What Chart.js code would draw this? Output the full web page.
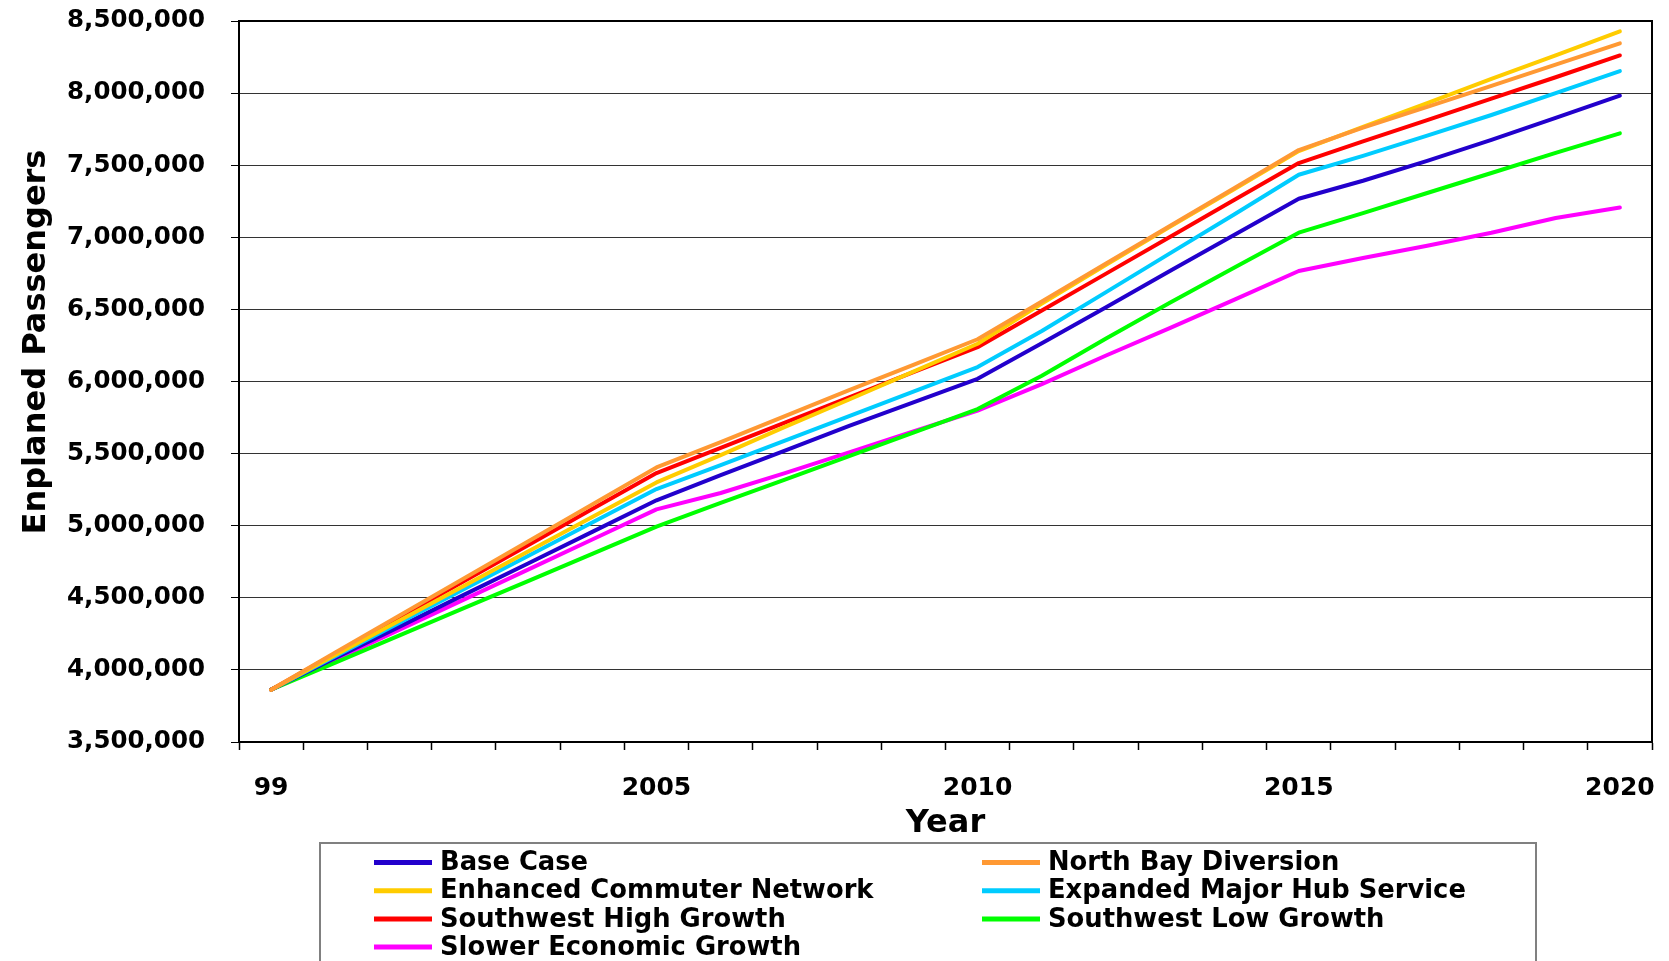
<!DOCTYPE html>
<html>
<head>
<meta charset="utf-8">
<title>Enplaned Passengers Forecast</title>
<script src="https://cdn.jsdelivr.net/npm/chart.js@4.4.1/dist/chart.umd.min.js"></script>
<style>
  html, body { margin: 0; padding: 0; background: #ffffff; }
  #wrap { width: 1669px; height: 961px; position: relative; overflow: hidden; }
  canvas { display: block; }
</style>
</head>
<body>
<div id="wrap"><canvas id="chart" width="1669" height="961"></canvas></div>
<script>
// Forecast years
const years = [1999, 2000, 2001, 2002, 2003, 2004, 2005, 2006, 2007, 2008, 2009,
               2010, 2011, 2012, 2013, 2014, 2015, 2016, 2017, 2018, 2019, 2020];

// Labels shown under the x axis (one per year, blank where no label is printed)
const yearTickLabels = ['99', '', '', '', '', '', '2005', '', '', '', '',
                        '2010', '', '', '', '', '2015', '', '', '', '', '2020'];

// Y axis range and step (enplaned passengers)
const yTickMin = 3500000;
const yTickMax = 8500000;
const yTickStep = 500000;

// Scenario names, in legend order
const scenarioNames = [
  'Base Case',
  'North Bay Diversion',
  'Enhanced Commuter Network',
  'Expanded Major Hub Service',
  'Southwest High Growth',
  'Southwest Low Growth',
  'Slower Economic Growth'
];

// Enplaned passengers per scenario, 1999-2020
const baseCase = [3863000, 4082000, 4300000, 4520000, 4738000, 4957000, 5176000,
  5350000, 5520000, 5692000, 5855000, 6019000, 6265000, 6515000, 6768000, 7018000,
  7267000, 7392000, 7530000, 7675000, 7828000, 7982000];

const northBayDiversion = [3863000, 4120000, 4377000, 4634000, 4890000, 5147000, 5404000,
  5580000, 5760000, 5940000, 6115000, 6293000, 6555000, 6818000, 7080000, 7342000,
  7605000, 7760000, 7905000, 8050000, 8198000, 8345000];

const enhancedCommuterNetwork = [3863000, 4103000, 4342000, 4582000, 4821000, 5061000, 5300000,
  5490000, 5685000, 5875000, 6068000, 6262000, 6540000, 6810000, 7075000, 7335000,
  7598000, 7765000, 7930000, 8098000, 8262000, 8428000];

const expandedMajorHubService = [3863000, 4095000, 4327000, 4559000, 4790000, 5022000, 5254000,
  5420000, 5590000, 5760000, 5930000, 6100000, 6350000, 6620000, 6890000, 7160000,
  7434000, 7565000, 7705000, 7848000, 8000000, 8153000];

const southwestHighGrowth = [3863000, 4113000, 4364000, 4614000, 4864000, 5115000, 5365000,
  5540000, 5715000, 5890000, 6065000, 6238000, 6492000, 6748000, 7004000, 7260000,
  7515000, 7665000, 7813000, 7962000, 8110000, 8261000];

const southwestLowGrowth = [3863000, 4051000, 4240000, 4428000, 4616000, 4805000, 4993000,
  5158000, 5320000, 5482000, 5645000, 5809000, 6040000, 6298000, 6548000, 6790000,
  7032000, 7168000, 7307000, 7446000, 7585000, 7721000];

const slowerEconomicGrowth = [3863000, 4071000, 4279000, 4487000, 4695000, 4904000, 5113000,
  5227000, 5365000, 5508000, 5654000, 5798000, 5982000, 6180000, 6372000, 6568000,
  6766000, 6856000, 6942000, 7032000, 7134000, 7207000];

const scenarioValues = [baseCase, northBayDiversion, enhancedCommuterNetwork,
  expandedMajorHubService, southwestHighGrowth, southwestLowGrowth, slowerEconomicGrowth];

// Line colours and stacking (lower order is painted on top)
const scenarioColors = ['#2200cc', '#ff9933', '#ffcc00', '#00ccff', '#ff0000', '#00ff00', '#ff00ff'];
const scenarioOrder = [4, 0, 1, 3, 2, 5, 6];

const FONT = '"DejaVu Sans", "Liberation Sans", Arial, sans-serif';

// Border on the top and right of the plot area
const plotFrame = {
  id: 'plotFrame',
  afterDraw(chart) {
    const { ctx, chartArea: a } = chart;
    ctx.save();
    ctx.strokeStyle = '#000000';
    ctx.lineWidth = 2;
    ctx.beginPath();
    ctx.moveTo(a.left, a.top);
    ctx.lineTo(a.right, a.top);
    ctx.lineTo(a.right, a.bottom);
    ctx.stroke();
    ctx.restore();
  }
};

// Rotated y axis title
const yAxisTitle = {
  id: 'yAxisTitle',
  afterDraw(chart) {
    const ctx = chart.ctx;
    ctx.save();
    ctx.translate(45, 342);
    ctx.rotate(-Math.PI / 2);
    ctx.font = 'bold 32px ' + FONT;
    ctx.fillStyle = '#000000';
    ctx.textAlign = 'center';
    ctx.textBaseline = 'alphabetic';
    ctx.fillText('Enplaned Passengers', 0, 0);
    ctx.restore();
  }
};

// Two-column boxed legend under the axis
const boxedLegend = {
  id: 'boxedLegend',
  afterDraw(chart) {
    const ctx = chart.ctx;
    ctx.save();
    ctx.strokeStyle = '#808080';
    ctx.lineWidth = 2;
    ctx.strokeRect(320, 843, 1216, 160);
    ctx.font = 'bold 25.8px ' + FONT;
    ctx.textBaseline = 'middle';
    ctx.textAlign = 'left';
    chart.data.datasets.forEach((ds, i) => {
      const col = i % 2;
      const row = Math.floor(i / 2);
      const x = col === 0 ? 374 : 982;
      const y = 862.5 + row * 28.2;
      ctx.strokeStyle = ds.borderColor;
      ctx.lineWidth = 5;
      ctx.lineCap = 'butt';
      ctx.beginPath();
      ctx.moveTo(x, y);
      ctx.lineTo(x + 58, y);
      ctx.stroke();
      ctx.fillStyle = '#000000';
      ctx.fillText(ds.label, x + 66, y + 1);
    });
    ctx.restore();
  }
};

const datasets = scenarioNames.map((name, i) => ({
  label: name,
  data: scenarioValues[i],
  borderColor: scenarioColors[i],
  backgroundColor: scenarioColors[i],
  borderWidth: 4,
  borderJoinStyle: 'round',
  borderCapStyle: 'round',
  pointRadius: 0,
  pointHoverRadius: 0,
  tension: 0,
  fill: false,
  order: scenarioOrder[i]
}));

new Chart(document.getElementById('chart'), {
  type: 'line',
  data: { labels: years.map(String), datasets },
  plugins: [plotFrame, yAxisTitle, boxedLegend],
  options: {
    responsive: false,
    devicePixelRatio: 1,
    animation: false,
    layout: { padding: { left: 0, right: 17, top: 21, bottom: 118.2 } },
    plugins: {
      legend: { display: false },
      tooltip: { enabled: false },
      title: { display: false }
    },
    scales: {
      x: {
        type: 'category',
        offset: true,
        afterFit(scale) {
          scale.height = 100.8;
          scale.paddingLeft = 0;
          scale.paddingRight = 0;
        },
        grid: {
          display: true,
          offset: true,
          drawOnChartArea: false,
          drawTicks: true,
          tickLength: 8,
          tickColor: '#000000',
          tickWidth: 1.5
        },
        border: { display: true, color: '#000000', width: 2 },
        ticks: {
          autoSkip: false,
          maxRotation: 0,
          minRotation: 0,
          padding: 23.6,
          color: '#000000',
          font: { family: FONT, size: 25, weight: 'bold' },
          callback: (value, index) => yearTickLabels[index]
        },
        title: {
          display: true,
          text: 'Year',
          color: '#000000',
          font: { family: FONT, size: 32, weight: 'bold' },
          padding: { top: 2, bottom: 0 }
        }
      },
      y: {
        min: yTickMin,
        max: yTickMax,
        afterFit(scale) {
          scale.width = 239;
          scale.paddingTop = 0;
          scale.paddingBottom = 0;
        },
        grid: {
          color: '#333333',
          lineWidth: 1,
          drawTicks: true,
          tickLength: 8,
          tickColor: '#000000'
        },
        border: { display: true, color: '#000000', width: 2 },
        ticks: {
          stepSize: yTickStep,
          padding: 26,
          color: '#000000',
          font: { family: FONT, size: 24.5, weight: 'bold' },
          callback: (v) => Number(v).toLocaleString('en-US')
        },
        title: { display: false }
      }
    }
  }
});
</script>
</body>
</html>
